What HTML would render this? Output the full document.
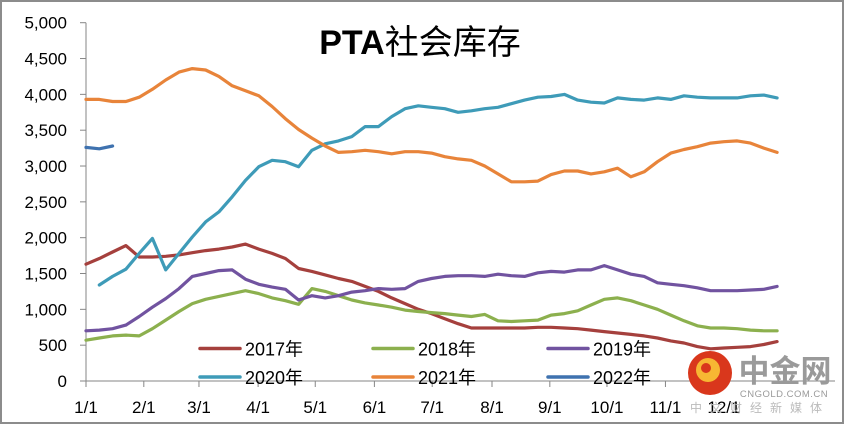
<!DOCTYPE html>
<html><head><meta charset="utf-8"><style>
html,body{margin:0;padding:0;background:#fff;}
svg{display:block;font-family:"Liberation Sans","Noto Sans CJK SC",sans-serif;}
</style></head><body>
<svg id="chart" width="844" height="424" viewBox="0 0 844 424" xmlns="http://www.w3.org/2000/svg">
<rect x="1" y="1" width="842" height="422" fill="#fff" stroke="#8c8c8c" stroke-width="2"/>
<text x="420" y="54" font-size="34" text-anchor="middle" font-weight="bold" fill="#000" font-family="'Liberation Sans','Noto Sans CJK SC',sans-serif">PTA<tspan font-weight="normal">社会库存</tspan></text>
<g id="axes"></g>
<g id="series"></g>
<g id="legend"></g>
<g>
<circle cx="710" cy="373" r="22" fill="#d9371c"/>
<circle cx="708" cy="370" r="12" fill="#f7b733"/>
<circle cx="706" cy="368" r="5" fill="#d9371c"/>
<text x="785" y="382" font-size="31" font-weight="bold" fill="#9a9a9a" text-anchor="middle" font-family="'Noto Sans CJK SC',sans-serif">中金网</text>
<text x="784" y="397" font-size="9.5" fill="#9a9a9a" text-anchor="middle" letter-spacing="0.5">CNGOLD.COM.CN</text>
<text x="760" y="412" font-size="12" fill="#bbbbbb" text-anchor="middle" letter-spacing="8" font-family="'Noto Sans CJK SC',sans-serif">中文财经新媒体</text>
</g>
</svg>
<script>
const yTicks = [0,500,1000,1500,2000,2500,3000,3500,4000,4500,5000];
const monthLabels = ["1/1","2/1","3/1","4/1","5/1","6/1","7/1","8/1","9/1","10/1","11/1","12/1"];
const monthWeek = [0,4.35,8.5,12.95,17.25,21.7,26.05,30.55,34.9,39.2,43.6,48];
const seriesNames = ["2017年","2018年","2019年","2020年","2021年","2022年"];
const s2017 = [1630,1710,1800,1890,1730,1730,1740,1760,1790,1820,1840,1870,1910,1840,1780,1710,1570,1530,1480,1430,1390,1320,1250,1160,1080,1000,940,870,800,740,740,740,740,740,750,750,740,730,710,690,670,650,630,600,560,530,480,450,460,470,480,510,550];
const s2018 = [570,600,630,640,630,730,850,970,1080,1140,1180,1220,1260,1220,1160,1120,1070,1290,1250,1190,1130,1090,1060,1030,990,970,955,940,920,900,930,840,830,840,850,920,940,980,1060,1140,1160,1120,1060,1000,920,840,770,740,740,730,710,700,700];
const s2019 = [700,710,730,780,900,1030,1150,1290,1460,1500,1540,1550,1420,1350,1310,1280,1130,1190,1160,1190,1240,1260,1290,1280,1290,1390,1430,1460,1470,1470,1460,1490,1470,1460,1510,1530,1520,1550,1550,1610,1550,1490,1460,1370,1350,1330,1300,1260,1260,1260,1270,1280,1320];
const s2020 = [null,1340,1460,1560,1780,1990,1550,1780,2010,2220,2360,2570,2800,2990,3080,3060,2990,3220,3310,3350,3410,3550,3550,3690,3800,3840,3820,3800,3750,3770,3800,3820,3870,3920,3960,3970,4000,3920,3890,3880,3950,3930,3920,3950,3930,3980,3960,3950,3950,3950,3980,3990,3950];
const s2021 = [3930,3930,3900,3900,3960,4070,4200,4310,4360,4340,4250,4120,4050,3980,3830,3660,3510,3390,3280,3190,3200,3220,3200,3170,3200,3200,3180,3130,3100,3080,3000,2890,2780,2780,2790,2880,2930,2930,2890,2920,2970,2850,2920,3060,3180,3230,3270,3320,3340,3350,3320,3250,3190];
const s2022 = [3260,3240,3280];
const colors = ["#A5403D","#8CB04E","#7153A0","#3E9BB8","#E8843A","#3F72AF"];

const NS="http://www.w3.org/2000/svg";
const X0=86, WEEK=13.29, Y0=381, YTOP=22.7, VMAX=5000;
const xs = i => X0 + i*WEEK;
const ys = v => Y0 - v/VMAX*(Y0-YTOP);
function mk(tag, attrs, parent){const e=document.createElementNS(NS,tag);for(const k in attrs)e.setAttribute(k,attrs[k]);parent.appendChild(e);return e;}
const axes=document.getElementById('axes');
const yAxis=mk('line',{x1:X0,y1:YTOP,x2:X0,y2:Y0,stroke:'#868686','stroke-width':1},axes);


const xAxis=mk('line',{x1:X0-6,y1:Y0,x2:835,y2:Y0,stroke:'#868686','stroke-width':1},axes);


yTicks.forEach(v=>{
  const y=ys(v);
  if(v>0) mk('line',{x1:X0-6,y1:y,x2:X0,y2:y,stroke:'#868686'},axes);
  const t=mk('text',{x:67,y:y+6,'font-size':17,'text-anchor':'end',fill:'#000'},axes);
  t.textContent=v.toLocaleString('en-US');
  
  
});
monthLabels.forEach((m,i)=>{
  const x=xs(monthWeek[i]);
  mk('line',{x1:x,y1:Y0,x2:x,y2:Y0+6,stroke:'#868686'},axes);
  const t=mk('text',{x:x,y:413,'font-size':17,'text-anchor':'middle',fill:'#000'},axes);
  t.textContent=m;
  
  
});
const allSeries=[s2017,s2018,s2019,s2020,s2021,s2022];
const sg=document.getElementById('series');
allSeries.forEach((arr,k)=>{
  let d='';let started=false;
  arr.forEach((v,i)=>{ if(v==null){started=false;return;} d+=(started?'L':'M')+xs(i).toFixed(1)+' '+ys(v).toFixed(1)+' '; started=true;});
  const p=mk('path',{d:d,fill:'none',stroke:colors[k],'stroke-width':3.2,'stroke-linejoin':'round','stroke-linecap':'round'},sg);
  
  
});
const lg=document.getElementById('legend');
const lx=[200,373,548], ly=[348.5,377];
seriesNames.forEach((n,k)=>{
  const x=lx[k%3], y=ly[Math.floor(k/3)];
  const g=mk('g',{},lg);
  
  
  mk('line',{x1:x,y1:y,x2:x+40,y2:y,stroke:colors[k],'stroke-width':3.5,'stroke-linecap':'round'},g);
  const t=mk('text',{x:x+45,y:y+7,'font-size':18,fill:'#000'},g);
  t.textContent=n;
});
</script>
</body></html>
